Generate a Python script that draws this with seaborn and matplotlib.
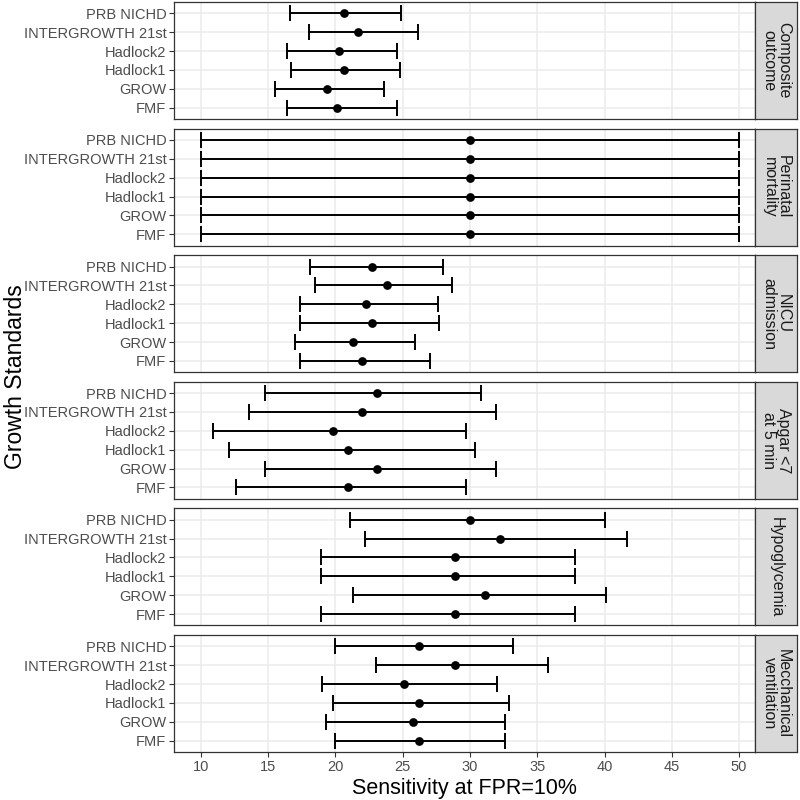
import matplotlib
matplotlib.use("Agg")
import matplotlib.pyplot as plt
import seaborn as sns
import pandas as pd

standards = ["PRB NICHD", "INTERGROWTH 21st", "Hadlock2", "Hadlock1", "GROW", "FMF"]
outcomes = ["Composite\noutcome", "Perinatal\nmortality", "NICU\nadmission",
            "Apgar <7\nat 5 min", "Hypoglycemia", "Mecchanical\nventilation"]

# point estimate, lower and upper CI per outcome (order as in standards)
composite_est = [20.6, 21.7, 20.3, 20.6, 19.4, 20.1]
composite_lo = [16.6, 18.0, 16.4, 16.7, 15.5, 16.4]
composite_hi = [24.9, 26.1, 24.6, 24.8, 23.6, 24.6]

perinatal_est = [30.0, 30.0, 30.0, 30.0, 30.0, 30.0]
perinatal_lo = [10.0, 10.0, 10.0, 10.0, 10.0, 10.0]
perinatal_hi = [50.0, 50.0, 50.0, 50.0, 50.0, 50.0]

nicu_est = [22.7, 23.8, 22.3, 22.7, 21.3, 22.0]
nicu_lo = [18.1, 18.5, 17.4, 17.4, 17.0, 17.4]
nicu_hi = [28.0, 28.7, 27.6, 27.7, 25.9, 27.0]

apgar_est = [23.1, 22.0, 19.8, 20.9, 23.1, 20.9]
apgar_lo = [14.8, 13.6, 10.9, 12.1, 14.8, 12.6]
apgar_hi = [30.8, 31.9, 29.7, 30.4, 31.9, 29.7]

hypo_est = [30.0, 32.2, 28.9, 28.9, 31.1, 28.9]
hypo_lo = [21.1, 22.2, 18.9, 18.9, 21.3, 18.9]
hypo_hi = [40.0, 41.7, 37.8, 37.8, 40.1, 37.8]

vent_est = [26.2, 28.9, 25.1, 26.2, 25.8, 26.2]
vent_lo = [20.0, 23.0, 19.0, 19.8, 19.3, 20.0]
vent_hi = [33.2, 35.8, 32.0, 32.9, 32.6, 32.6]

series = [
    (composite_est, composite_lo, composite_hi),
    (perinatal_est, perinatal_lo, perinatal_hi),
    (nicu_est, nicu_lo, nicu_hi),
    (apgar_est, apgar_lo, apgar_hi),
    (hypo_est, hypo_lo, hypo_hi),
    (vent_est, vent_lo, vent_hi),
]

rows = []
for outcome, (est, lo, hi) in zip(outcomes, series):
    for s, e, l, h in zip(standards, est, lo, hi):
        rows.append({"outcome": outcome, "standard": s, "est": e, "lo": l, "hi": h})
df = pd.DataFrame(rows)

sns.set_theme(style="white")
plt.rcParams["font.family"] = ["Liberation Sans", "DejaVu Sans"]

fig, axes = plt.subplots(6, 1, figsize=(8, 8), dpi=100, sharex=True)
fig.subplots_adjust(left=0.2175, right=0.944, top=0.9975, bottom=0.06, hspace=0.082)

for i, (ax, outcome) in enumerate(zip(axes, outcomes)):
    sub = df[df["outcome"] == outcome]
    pos = [standards.index(s) for s in sub["standard"]]
    ax.errorbar(sub["est"], pos, xerr=[sub["est"] - sub["lo"], sub["hi"] - sub["est"]],
                fmt="none", ecolor="black", elinewidth=1.4, capsize=5.6, capthick=1.4, zorder=2)
    sns.stripplot(data=sub, x="est", y="standard", order=standards, jitter=False,
                  color="black", size=6.3, linewidth=0, ax=ax, zorder=3)
    ax.set_ylim(5.6, -0.6)
    ax.set_xlim(8.0, 51.2)
    ax.set_xticks([10, 15, 20, 25, 30, 35, 40, 45, 50])
    ax.grid(True, color="#EBEBEB", linewidth=1.1)
    ax.set_axisbelow(True)
    for sp in ax.spines.values():
        sp.set_color("#333333")
        sp.set_linewidth(0.9)
    ax.set_ylabel("")
    ax.set_xlabel("")
    ax.tick_params(axis="y", left=True, length=3.5, width=0.8, color="#333333",
                   labelcolor="#4D4D4D", labelsize=10.5, pad=2)
    if i < 5:
        ax.tick_params(axis="x", bottom=False, length=0)
    else:
        ax.tick_params(axis="x", bottom=True, length=3.5, width=0.8, color="#333333",
                       labelcolor="#4D4D4D", labelsize=10.5, pad=2)

    p = ax.get_position()
    sax = fig.add_axes([p.x1, p.y0, 0.0525, p.height])
    sax.set_facecolor("#D9D9D9")
    sax.set_xticks([])
    sax.set_yticks([])
    for sp in sax.spines.values():
        sp.set_color("#333333")
        sp.set_linewidth(0.9)
    sax.text(0.5, 0.5, outcome, rotation=-90, ha="center", va="center",
             fontsize=11.5, color="#1A1A1A", linespacing=0.95, transform=sax.transAxes)

axes[-1].set_xlabel("Sensitivity at FPR=10%", fontsize=15.5, color="black", labelpad=3)
fig.text(0.02, 0.529, "Growth Standards", rotation=90, ha="center", va="center",
         fontsize=16.5, color="black")

fig.savefig("out.png", dpi=100)
